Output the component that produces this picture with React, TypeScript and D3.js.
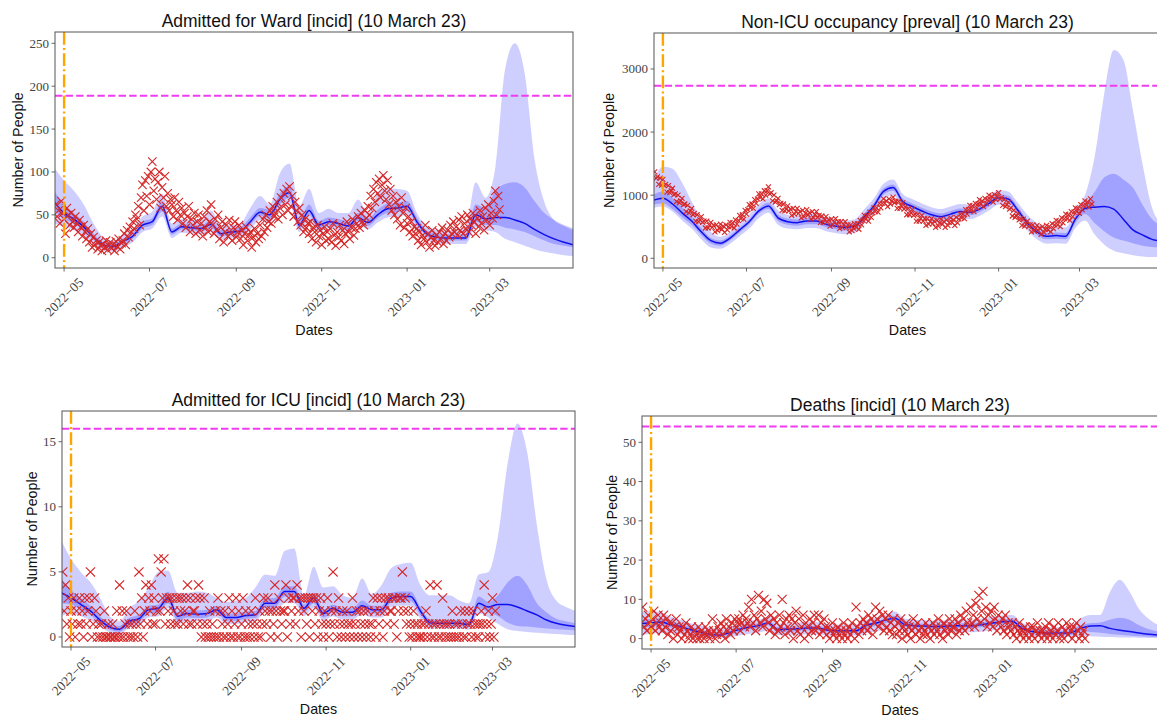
import React from 'react';
import * as d3 from 'd3';

// x range shared by the four panels
const X_DOMAIN: [Date, Date] = [new Date(2022, 3, 24, 12), new Date(2023, 3, 29, 12)];
const OBS_START = new Date(2022, 3, 25);   // first observed day
const KNOT_START = new Date(2022, 3, 24);  // model output is weekly from here
const X_TICKS = [new Date(2022, 4, 1), new Date(2022, 6, 1), new Date(2022, 8, 1), new Date(2022, 10, 1), new Date(2023, 0, 1), new Date(2023, 2, 1)];
const START_LINE = new Date(2022, 4, 1);

// ---------- Admitted for Ward [incid] ----------
const WARD_OBS = [
    62, 48, 55, 40, 66, 52,
    45, 28, 58, 50, 38, 52, 42,
    35, 48, 40, 30, 44, 36, 25,
    38, 30, 22, 34, 18, 28, 12,
    24, 15, 20, 10, 18, 14, 8,
    16, 12, 20, 9, 14, 18, 11,
    15, 8, 19, 13, 22, 10, 17,
    20, 28, 15, 32, 24, 36, 30,
    42, 34, 50, 45, 60, 38, 70,
    85, 55, 90, 72, 95, 62, 100,
    112, 78, 92, 68, 88, 100, 58,
    82, 70, 95, 60, 75, 55, 68,
    62, 48, 70, 55, 44, 65, 50,
    58, 40, 52, 35, 48, 60, 30,
    45, 38, 52, 28, 42, 50, 32,
    40, 25, 48, 35, 55, 30, 42,
    62, 38, 28, 45, 33, 50, 22,
    35, 42, 18, 30, 38, 25, 44,
    28, 20, 35, 42, 24, 30, 38,
    22, 32, 15, 28, 36, 20, 26,
    30, 12, 24, 34, 18, 28, 22,
    38, 25, 45, 30, 50, 35, 42,
    55, 40, 60, 48, 52, 65, 45,
    58, 70, 50, 75, 62, 80, 55,
    83, 60, 72, 48, 65, 55, 42,
    58, 38, 50, 30, 45, 35, 40,
    28, 42, 22, 35, 30, 18, 38,
    25, 32, 15, 28, 36, 20, 30,
    22, 34, 18, 40, 26, 14, 30,
    24, 38, 20, 32, 16, 28, 42,
    30, 22, 36, 45, 26, 34, 40,
    48, 35, 52, 42, 38, 55, 46,
    60, 50, 72, 58, 80, 65, 88,
    75, 92, 70, 85, 96, 78, 68,
    90, 62, 80, 55, 72, 50, 65,
    45, 60, 38, 70, 52, 35, 58,
    40, 48, 30, 42, 25, 36, 28,
    34, 20, 30, 15, 26, 22, 38,
    18, 28, 12, 24, 32, 20, 14,
    26, 18, 30, 22, 35, 16, 28,
    20, 32, 24, 38, 28, 42, 30,
    36, 26, 44, 32, 48, 28, 40,
    34, 50, 30, 45, 38, 52, 42,
    28, 46, 36, 55, 40, 48, 32,
    58, 44, 62, 38, 52, 46, 66,
    78, 50, 72, 56,
];
const WARD_MED = [
    65, 52, 45, 36, 24, 15, 13, 19, 25, 38,
    42, 60, 30, 36, 35, 34, 39, 28, 30, 31,
    42, 53, 50, 68, 76, 38, 55, 38, 42, 40,
    37, 47, 41, 50, 57, 58, 60, 42, 28, 24,
    23, 23, 23, 50, 45, 47, 47, 44, 40, 33,
    27, 22, 18, 15,
];
const WARD_HI50 = [
    78, 62, 52, 42, 28, 18, 16, 22, 29, 42,
    46, 66, 34, 40, 39, 38, 44, 32, 34, 36,
    47, 58, 56, 75, 84, 44, 62, 43, 47, 45,
    42, 52, 46, 56, 63, 64, 66, 47, 32, 28,
    27, 27, 28, 62, 58, 78, 86, 88, 82, 66,
    52, 44, 38, 34,
];
const WARD_LO50 = [
    55, 45, 40, 32, 21, 12, 10, 16, 22, 34,
    38, 54, 27, 33, 32, 31, 35, 25, 27, 28,
    38, 49, 46, 62, 70, 34, 50, 34, 38, 36,
    33, 43, 37, 46, 52, 53, 55, 38, 25, 21,
    20, 20, 20, 42, 38, 38, 35, 33, 30, 25,
    20, 16, 14, 12,
];
const WARD_HI95 = [
    105, 90, 78, 62, 40, 24, 20, 26, 33, 48,
    54, 75, 40, 45, 44, 44, 55, 38, 38, 40,
    58, 72, 62, 98, 110, 60, 80, 52, 57, 52,
    52, 68, 52, 75, 81, 80, 78, 52, 36, 33,
    32, 33, 36, 88, 70, 105, 220, 250, 215, 115,
    65, 44, 37, 32,
];
const WARD_LO95 = [
    40, 36, 32, 26, 16, 8, 7, 12, 18, 30,
    34, 48, 23, 29, 28, 27, 30, 21, 23, 24,
    33, 44, 41, 56, 63, 30, 44, 30, 34, 32,
    29, 38, 33, 41, 47, 48, 50, 33, 21, 17,
    16, 16, 16, 36, 32, 30, 22, 18, 14, 10,
    7, 5, 3, 2,
];

// ---------- Non-ICU occupancy [preval] ----------
const BEDS_OBS = [
    1370, 1270, 1290, 1170, 1270, 1160,
    1250, 1150, 1170, 1050, 1150, 1040, 1070,
    1110, 1010, 1020, 900, 1000, 880, 910,
    950, 850, 860, 740, 840, 720, 750,
    790, 690, 710, 590, 690, 580, 610,
    660, 570, 590, 480, 590, 480, 520,
    570, 490, 520, 420, 530, 440, 480,
    540, 460, 510, 410, 530, 450, 500,
    570, 500, 560, 480, 610, 540, 600,
    680, 630, 690, 620, 760, 700, 770,
    850, 800, 860, 790, 930, 870, 940,
    1020, 960, 1020, 940, 1070, 1000, 1070,
    1130, 1020, 1040, 910, 1000, 890, 910,
    950, 850, 870, 760, 860, 750, 780,
    830, 750, 780, 680, 790, 700, 740,
    790, 710, 740, 640, 760, 660, 710,
    770, 690, 720, 620, 740, 640, 690,
    740, 650, 680, 570, 670, 570, 610,
    660, 580, 610, 510, 620, 530, 570,
    630, 540, 580, 470, 580, 490, 530,
    580, 490, 530, 420, 530, 440, 480,
    550, 490, 550, 460, 600, 530, 600,
    680, 620, 670, 590, 730, 650, 720,
    800, 740, 800, 730, 870, 800, 870,
    940, 870, 910, 820, 940, 860, 910,
    970, 880, 900, 790, 900, 790, 830,
    880, 780, 810, 690, 790, 690, 720,
    770, 680, 700, 590, 700, 590, 630,
    680, 590, 630, 520, 630, 540, 580,
    630, 550, 590, 490, 600, 510, 560,
    620, 540, 580, 490, 610, 520, 570,
    640, 570, 610, 520, 650, 560, 620,
    700, 640, 700, 630, 770, 700, 770,
    840, 770, 830, 740, 870, 800, 860,
    930, 860, 910, 820, 950, 870, 930,
    1000, 930, 980, 890, 1010, 930, 990,
    1040, 940, 960, 840, 930, 820, 850,
    890, 780, 800, 670, 760, 650, 670,
    710, 610, 630, 520, 620, 510, 540,
    590, 500, 530, 420, 530, 430, 470,
    520, 440, 480, 380, 500, 410, 460,
    520, 450, 500, 420, 550, 470, 530,
    600, 530, 590, 500, 640, 560, 630,
    700, 630, 690, 600, 740, 660, 730,
    800, 740, 790, 710, 850, 770, 840,
    910, 840, 890, 810, 940, 860,
];
const BEDS_MED = [
    920, 950, 860, 720, 590, 420, 280, 240, 320, 450,
    580, 750, 830, 640, 580, 565, 590, 590, 540, 510,
    490, 510, 660, 830, 1060, 1120, 900, 820, 750, 690,
    660, 700, 740, 730, 780, 870, 960, 940, 760, 560,
    420, 350, 360, 350, 620, 790, 810, 820, 780, 620,
    450, 370, 300, 270,
];
const BEDS_HI50 = [
    1010, 1060, 960, 810, 660, 480, 320, 280, 360, 490,
    620, 790, 880, 690, 630, 615, 640, 640, 590, 560,
    540, 560, 710, 880, 1110, 1170, 950, 870, 800, 740,
    710, 750, 790, 780, 830, 920, 1010, 990, 810, 610,
    470, 400, 410, 400, 680, 860, 1050, 1280, 1340, 1250,
    1120, 850, 620, 520,
];
const BEDS_LO50 = [
    850, 870, 780, 650, 530, 370, 230, 200, 280, 410,
    540, 710, 780, 590, 530, 515, 540, 540, 490, 460,
    440, 460, 610, 780, 1010, 1070, 850, 770, 700, 640,
    610, 650, 690, 680, 730, 820, 910, 890, 710, 510,
    370, 300, 310, 300, 560, 700, 560, 430, 330, 280,
    240, 200, 180, 170,
];
const BEDS_HI95 = [
    1240, 1450, 1420, 1200, 900, 620, 420, 340, 420, 560,
    690, 860, 950, 760, 690, 670, 700, 700, 650, 620,
    600, 620, 780, 950, 1180, 1250, 1020, 940, 870, 810,
    780, 820, 860, 850, 900, 990, 1080, 1060, 880, 690,
    560, 490, 500, 490, 780, 1000, 1600, 2600, 3300, 3150,
    2350, 1500, 800, 550,
];
const BEDS_LO95 = [
    800, 820, 740, 600, 470, 300, 170, 150, 230, 350,
    470, 640, 720, 530, 470, 460, 480, 480, 430, 400,
    380, 400, 550, 710, 940, 1000, 790, 710, 640, 580,
    550, 590, 630, 620, 670, 760, 850, 820, 640, 440,
    300, 230, 240, 230, 480, 600, 380, 220, 120, 80,
    50, 30, 20, 20,
];

// ---------- Admitted for ICU [incid] ----------
const ICU_OBS = [
    5, 2, 4, 1, 3, 0,
    2, 1, 3, 0, 2, 1, 3,
    1, 2, 0, 3, 1, 2, 3,
    5, 0, 1, 3, 2, 0, 1,
    0, 1, 0, 2, 0, 0, 1,
    0, 0, 1, 0, 0, 2, 0,
    4, 0, 2, 0, 1, 2, 0,
    1, 0, 1, 0, 2, 1, 0,
    5, 1, 3, 0, 2, 4, 1,
    3, 2, 4, 1, 3, 1, 2,
    6, 2, 5, 3, 6, 1, 3,
    2, 3, 1, 3, 2, 1, 3,
    1, 3, 2, 3, 1, 2, 3,
    4, 1, 3, 1, 2, 2, 3,
    1, 4, 3, 0, 1, 3, 0,
    1, 0, 2, 0, 1, 0, 2,
    0, 3, 0, 2, 1, 0, 2,
    0, 1, 3, 0, 2, 0, 1,
    3, 0, 2, 0, 1, 3, 0,
    2, 0, 1, 0, 2, 1, 0,
    3, 1, 0, 2, 0, 1, 3,
    2, 1, 3, 2, 0, 2, 1,
    4, 2, 0, 3, 2, 1, 2,
    2, 4, 0, 3, 1, 2, 3,
    3, 1, 4, 2, 3, 0, 3,
    2, 3, 1, 3, 0, 3, 2,
    3, 1, 3, 0, 2, 3, 1,
    0, 2, 1, 3, 0, 1, 2,
    5, 1, 2, 0, 3, 1, 0,
    2, 1, 0, 2, 1, 0, 1,
    3, 0, 1, 2, 0, 2, 1,
    0, 2, 1, 0, 2, 1, 0,
    1, 3, 2, 0, 3, 1, 2,
    3, 0, 2, 3, 1, 3, 2,
    2, 3, 1, 3, 0, 2, 3,
    3, 5, 2, 3, 1, 2, 0,
    1, 0, 2, 1, 0, 1, 0,
    0, 1, 0, 1, 2, 0, 1,
    4, 0, 1, 0, 1, 4, 0,
    1, 0, 3, 1, 0, 1, 0,
    1, 0, 2, 0, 1, 0, 1,
    0, 2, 1, 0, 2, 0, 1,
    2, 1, 0, 2, 1, 0, 1,
    0, 1, 2, 1, 4, 0, 1,
    2, 0, 1, 3, 0, 2,
];
const ICU_MED = [
    3.4, 3.0, 2.5, 2.0, 1.3, 0.75, 0.6, 1.2, 1.4, 2.1,
    2.2, 3.0, 1.6, 1.8, 1.75, 1.8, 2.1, 1.5, 1.5, 1.65,
    1.7, 2.6, 2.6, 3.5, 3.5, 2.2, 3.0, 1.8, 2.2, 1.9,
    1.9, 2.4, 2.1, 2.1, 3.0, 3.1, 3.1, 2.0, 1.1, 1.05,
    1.05, 1.05, 0.95, 2.6, 2.3, 2.5, 2.5, 2.3, 2.0, 1.7,
    1.3, 1.05, 0.9, 0.8,
];
const ICU_HI50 = [
    4.5, 3.6, 3.0, 2.4, 1.6, 1.0, 0.85, 1.45, 1.7, 2.4,
    2.5, 3.5, 1.9, 2.1, 2.05, 2.1, 2.4, 1.8, 1.8, 1.95,
    2.0, 3.0, 3.0, 3.9, 3.9, 2.5, 3.4, 2.1, 2.5, 2.2,
    2.2, 2.8, 2.4, 2.4, 3.4, 3.5, 3.5, 2.3, 1.35, 1.3,
    1.3, 1.3, 1.2, 3.1, 2.7, 3.2, 4.2, 4.7, 4.0, 2.6,
    1.9, 1.4, 1.2, 1.05,
];
const ICU_LO50 = [
    2.6, 2.5, 2.1, 1.7, 1.05, 0.55, 0.4, 0.95, 1.15, 1.8,
    1.9, 2.6, 1.3, 1.5, 1.45, 1.5, 1.8, 1.25, 1.25, 1.4,
    1.45, 2.25, 2.25, 3.1, 3.1, 1.9, 2.6, 1.5, 1.9, 1.6,
    1.6, 2.05, 1.8, 1.8, 2.65, 2.75, 2.75, 1.7, 0.9, 0.85,
    0.85, 0.85, 0.75, 2.2, 1.9, 1.6, 1.1, 0.85, 0.8, 0.72,
    0.65, 0.6, 0.55, 0.5,
];
const ICU_HI95 = [
    7.4, 6.0, 5.0, 4.2, 3.0, 1.6, 1.2, 2.2, 2.8, 3.8,
    5.0, 5.1, 3.4, 3.4, 3.5, 3.4, 3.0, 2.7, 2.8, 3.0,
    3.8, 4.8, 4.7, 6.6, 6.8, 3.2, 5.4, 3.8, 3.9, 3.2,
    3.0, 4.5, 3.3, 4.0, 5.3, 5.6, 5.7, 4.0, 3.2, 3.2,
    3.2, 2.8, 2.6, 4.8, 5.0, 7.8, 13.4, 16.4, 14.2, 8.6,
    4.4, 2.8, 2.3, 2.0,
];
const ICU_LO95 = [
    1.6, 1.8, 1.6, 1.3, 0.8, 0.35, 0.2, 0.7, 0.9, 1.5,
    1.6, 2.2, 1.0, 1.25, 1.2, 1.25, 1.5, 1.0, 1.0, 1.15,
    1.2, 1.9, 1.9, 2.6, 2.6, 1.6, 2.2, 1.25, 1.6, 1.35,
    1.35, 1.75, 1.5, 1.5, 2.3, 2.4, 2.4, 1.4, 0.7, 0.65,
    0.65, 0.65, 0.55, 1.8, 1.5, 1.0, 0.6, 0.45, 0.38, 0.32,
    0.27, 0.22, 0.18, 0.15,
];

// ---------- Deaths [incid] ----------
const DEATH_OBS = [
    8, 3, 5, 2, 6, 4,
    3, 5, 7, 2, 4, 6, 3,
    4, 2, 6, 3, 5, 1, 4,
    2, 4, 0, 3, 5, 1, 3,
    2, 0, 3, 1, 4, 2, 0,
    1, 3, 0, 2, 1, 0, 3,
    0, 2, 1, 0, 3, 1, 2,
    0, 1, 5, 2, 0, 1, 3,
    2, 4, 1, 3, 0, 5, 2,
    3, 1, 4, 2, 5, 3, 4,
    5, 2, 4, 6, 3, 5, 4,
    8, 3, 10, 4, 6, 2, 5,
    11, 4, 7, 3, 10, 5, 9,
    4, 2, 6, 3, 5, 1, 4,
    2, 6, 3, 10, 4, 1, 5,
    3, 6, 2, 5, 0, 4, 7,
    2, 5, 1, 3, 6, 0, 4,
    3, 1, 5, 2, 4, 6, 2,
    3, 6, 1, 4, 2, 5, 3,
    1, 3, 0, 2, 4, 1, 2,
    0, 3, 1, 2, 0, 4, 1,
    2, 0, 3, 1, 4, 2, 0,
    8, 3, 1, 4, 2, 5, 3,
    4, 2, 6, 3, 5, 1, 4,
    8, 5, 3, 7, 4, 6, 2,
    5, 3, 6, 2, 4, 1, 5,
    3, 1, 4, 2, 5, 0, 3,
    2, 4, 1, 3, 0, 2, 5,
    3, 1, 4, 2, 0, 3, 1,
    2, 4, 1, 3, 0, 2, 4,
    1, 3, 2, 5, 1, 3, 0,
    4, 2, 3, 1, 5, 2, 3,
    3, 5, 1, 4, 2, 6, 3,
    5, 2, 7, 4, 3, 8, 4,
    6, 3, 9, 5, 11, 4, 7,
    12, 5, 8, 3, 6, 4, 7,
    3, 8, 5, 2, 6, 4, 3,
    5, 2, 6, 1, 4, 3, 2,
    4, 1, 3, 0, 2, 4, 1,
    2, 0, 3, 1, 2, 0, 3,
    1, 3, 0, 2, 4, 1, 2,
    0, 2, 1, 3, 0, 4, 1,
    2, 0, 3, 1, 2, 4, 0,
    1, 3, 0, 2, 4, 1, 3,
    2, 0, 3, 1, 4, 2, 0,
    3, 1, 2, 0,
];
const DEATH_MED = [
    3.8, 4.0, 4.2, 3.6, 3.1, 2.3, 1.7, 1.1, 0.9, 1.5,
    2.3, 2.9, 3.3, 4.0, 2.3, 2.4, 2.5, 2.7, 2.7, 2.2,
    2.0, 2.0, 2.0, 3.4, 3.9, 4.7, 5.2, 3.5, 3.3, 3.2,
    3.1, 3.1, 3.3, 3.3, 3.3, 3.6, 4.0, 4.3, 4.4, 2.6,
    1.8, 1.5, 1.4, 1.4, 1.5, 2.6, 3.2, 3.3, 2.6, 2.1,
    1.8, 1.4, 1.1, 0.9,
];
const DEATH_HI50 = [
    4.8, 5.0, 5.1, 4.4, 3.8, 3.0, 2.4, 1.7, 1.5, 2.0,
    2.9, 3.5, 3.9, 4.6, 2.9, 3.0, 3.1, 3.3, 3.3, 2.8,
    2.6, 2.6, 2.7, 3.8, 4.4, 5.1, 5.8, 4.2, 3.9, 3.8,
    3.7, 3.7, 3.9, 3.9, 3.9, 4.2, 4.6, 4.9, 5.0, 3.2,
    2.4, 2.1, 2.0, 2.0, 2.2, 3.4, 3.9, 4.1, 4.8, 5.3,
    4.8, 3.4, 2.4, 1.8,
];
const DEATH_LO50 = [
    2.8, 3.0, 3.3, 2.8, 2.4, 1.6, 1.0, 0.6, 0.4, 0.9,
    1.7, 2.3, 2.7, 3.4, 1.7, 1.8, 1.9, 2.1, 2.1, 1.6,
    1.4, 1.4, 1.5, 2.6, 3.2, 3.9, 4.6, 3.0, 2.7, 2.6,
    2.5, 2.5, 2.7, 2.7, 2.7, 3.0, 3.4, 3.7, 3.8, 2.0,
    1.2, 0.9, 0.8, 0.8, 0.9, 1.8, 1.7, 1.5, 1.2, 1.0,
    0.8, 0.6, 0.5, 0.4,
];
const DEATH_HI95 = [
    6.8, 7.0, 6.8, 5.6, 4.8, 4.0, 3.4, 2.8, 2.6, 3.0,
    3.8, 4.5, 4.8, 5.6, 3.8, 3.9, 4.0, 4.2, 4.2, 3.7,
    3.5, 3.5, 3.6, 4.8, 5.4, 6.1, 6.9, 5.1, 4.8, 4.7,
    4.6, 4.6, 4.8, 4.8, 4.8, 5.2, 5.6, 5.9, 6.0, 4.1,
    3.3, 3.0, 2.9, 2.9, 3.2, 5.2, 6.0, 6.0, 11.8, 15.0,
    12.0, 7.5, 5.0, 3.4,
];
const DEATH_LO95 = [
    1.0, 1.2, 1.4, 1.3, 1.1, 0.7, 0.4, 0.2, 0.1, 0.3,
    0.8, 1.2, 1.5, 2.0, 0.9, 1.0, 1.0, 1.1, 1.1, 0.8,
    0.7, 0.7, 0.7, 1.4, 1.8, 2.3, 2.8, 1.8, 1.6, 1.5,
    1.5, 1.5, 1.6, 1.6, 1.6, 1.8, 2.1, 2.3, 2.3, 1.1,
    0.6, 0.4, 0.4, 0.4, 0.4, 0.7, 0.6, 0.5, 0.4, 0.3,
    0.25, 0.2, 0.15, 0.1,
];

interface PanelProps {
    id: string;
    title: string;
    box: { left: number; right: number; top: number; bottom: number };
    yDomain: [number, number];
    yTicks: number[];
    threshold: number;
    obs: number[];
    med: number[];
    lo50: number[];
    hi50: number[];
    lo95: number[];
    hi95: number[];
    markSize: number;
    titleY: number;
    yLabelX: number;
    datesY: number;
}

const SANS = '"Liberation Sans", Arial, Helvetica, sans-serif';
const SERIF = '"Liberation Serif", "Times New Roman", serif';
const BAND = '#0000ff';
const OBS_RED = '#d62728';

const dayAfter = (start: Date, n: number) => new Date(start.getFullYear(), start.getMonth(), start.getDate() + n);
const tickText = (d: Date) => `${d.getFullYear()}\u2212${String(d.getMonth() + 1).padStart(2, '0')}`;

const Panel: React.FC<PanelProps> = (p) => {
    const { left, right, top, bottom } = p.box;
    const x = d3.scaleTime().domain(X_DOMAIN).range([left, right]);
    const y = d3.scaleLinear().domain(p.yDomain).range([bottom, top]);
    const kx = (k: number) => x(dayAfter(KNOT_START, 7 * k));

    const band = (lo: number[], hi: number[]) =>
        d3.area<number>()
            .x((_, k) => kx(k))
            .y0((_, k) => y(lo[k]))
            .y1((_, k) => y(hi[k]))
            .curve(d3.curveMonotoneX)(lo) || '';

    const medLine = d3.line<number>()
        .x((_, k) => kx(k))
        .y(v => y(v))
        .curve(d3.curveMonotoneX)(p.med) || '';

    const s = p.markSize;
    const cross = `M${-s},${-s}L${s},${s}M${-s},${s}L${s},${-s}`;
    const midX = (left + right) / 2;
    const midY = (top + bottom) / 2;

    return (
        <g>
            <defs>
                <clipPath id={`clip-${p.id}`}>
                    <rect x={left} y={top} width={right - left} height={bottom - top} />
                </clipPath>
            </defs>
            <g clipPath={`url(#clip-${p.id})`}>
                <path d={band(p.lo95, p.hi95)} fill={BAND} fillOpacity={0.19} />
                <path d={band(p.lo50, p.hi50)} fill={BAND} fillOpacity={0.22} />
                <path d={medLine} fill="none" stroke="#1010ee" strokeWidth={1.5} />
                {p.obs.map((v, i) => (
                    <path key={i} d={cross}
                        transform={`translate(${x(dayAfter(OBS_START, i))},${y(v)})`}
                        stroke={OBS_RED} strokeWidth={1.1} fill="none" />
                ))}
                <line x1={left} x2={right} y1={y(p.threshold)} y2={y(p.threshold)}
                    stroke="#f03cf0" strokeWidth={2} strokeDasharray="7.4,3.2" />
                <line x1={x(START_LINE)} x2={x(START_LINE)} y1={top} y2={bottom}
                    stroke="#ffa500" strokeWidth={2.4} strokeDasharray="12.8,3.2,2,3.2" />
            </g>
            <rect x={left} y={top} width={right - left} height={bottom - top}
                fill="none" stroke="#555" strokeWidth={1} />

            {/* y axis */}
            {p.yTicks.map(t => (
                <g key={t}>
                    <line x1={left - 3.5} x2={left} y1={y(t)} y2={y(t)} stroke="#444" strokeWidth={0.8} />
                    <text x={left - 6} y={y(t)} textAnchor="end" dominantBaseline="central"
                        fontFamily={SERIF} fontSize={13} fill="#444">{t}</text>
                </g>
            ))}

            {/* x axis */}
            {X_TICKS.map(t => (
                <g key={t.getTime()}>
                    <line x1={x(t)} x2={x(t)} y1={bottom} y2={bottom + 3.5} stroke="#444" strokeWidth={0.8} />
                    <text transform={`translate(${x(t)},${bottom + 29}) rotate(-45)`}
                        textAnchor="middle" dominantBaseline="central"
                        fontFamily={SERIF} fontSize={13.5} fill="#444">{tickText(t)}</text>
                </g>
            ))}

            <text x={midX} y={p.titleY} textAnchor="middle" fontFamily={SANS} fontSize={17.5} fill="#111">{p.title}</text>
            <text x={midX} y={p.datesY} textAnchor="middle" fontFamily={SANS} fontSize={14.3} fill="#111">Dates</text>
            <text transform={`translate(${p.yLabelX},${midY}) rotate(-90)`} textAnchor="middle"
                dominantBaseline="central" fontFamily={SANS} fontSize={14.3} fill="#111">Number of People</text>
        </g>
    );
};

const App: React.FC = () => {
    return (
        <svg width={1157} height={718} style={{ position: 'absolute', left: 0, top: 0, background: '#fff' }}>
            <Panel id="ward" title="Admitted for Ward [incid] (10 March 23)"
                box={{ left: 55, right: 573, top: 32, bottom: 268 }}
                yDomain={[-12, 263.2]} yTicks={[0, 50, 100, 150, 200, 250]} threshold={189}
                obs={WARD_OBS} med={WARD_MED} lo50={WARD_LO50} hi50={WARD_HI50} lo95={WARD_LO95} hi95={WARD_HI95}
                markSize={4.2} titleY={27} yLabelX={18} datesY={335} />
            <Panel id="beds" title="Non-ICU occupancy [preval] (10 March 23)"
                box={{ left: 654, right: 1161, top: 33, bottom: 268 }}
                yDomain={[-154, 3570]} yTicks={[0, 1000, 2000, 3000]} threshold={2735}
                obs={BEDS_OBS} med={BEDS_MED} lo50={BEDS_LO50} hi50={BEDS_HI50} lo95={BEDS_LO95} hi95={BEDS_HI95}
                markSize={2.5} titleY={28} yLabelX={609} datesY={335} />
            <Panel id="icu" title="Admitted for ICU [incid] (10 March 23)"
                box={{ left: 62, right: 575, top: 411, bottom: 647 }}
                yDomain={[-0.77, 17.36]} yTicks={[0, 5, 10, 15]} threshold={16}
                obs={ICU_OBS} med={ICU_MED} lo50={ICU_LO50} hi50={ICU_HI50} lo95={ICU_LO95} hi95={ICU_HI95}
                markSize={4.6} titleY={406} yLabelX={32} datesY={714} />
            <Panel id="deaths" title="Deaths [incid] (10 March 23)"
                box={{ left: 642, right: 1158, top: 416, bottom: 649 }}
                yDomain={[-2.65, 56.7]} yTicks={[0, 10, 20, 30, 40, 50]} threshold={54}
                obs={DEATH_OBS} med={DEATH_MED} lo50={DEATH_LO50} hi50={DEATH_HI50} lo95={DEATH_LO95} hi95={DEATH_HI95}
                markSize={4.5} titleY={410.5} yLabelX={611.5} datesY={714.5} />
        </svg>
    );
};

export default App;
